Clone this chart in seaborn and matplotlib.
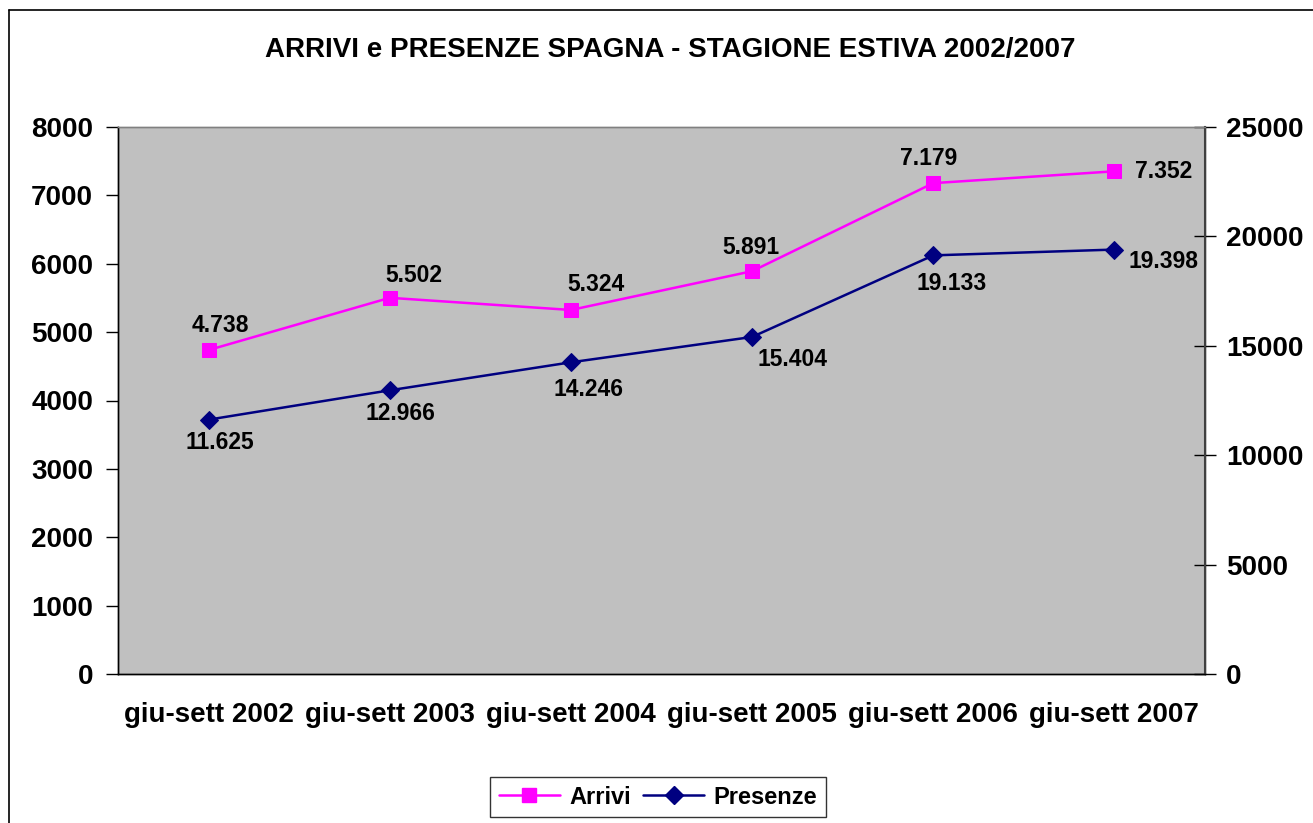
import matplotlib
matplotlib.use("Agg")
import matplotlib.pyplot as plt
import seaborn as sns
import pandas as pd
from matplotlib.lines import Line2D

categories = ["giu-sett 2002", "giu-sett 2003", "giu-sett 2004",
              "giu-sett 2005", "giu-sett 2006", "giu-sett 2007"]
arrivi = [4738, 5502, 5324, 5891, 7179, 7352]
presenze = [11625, 12966, 14246, 15404, 19133, 19398]
left_ticks = [0, 1000, 2000, 3000, 4000, 5000, 6000, 7000, 8000]
right_ticks = [0, 5000, 10000, 15000, 20000, 25000]
title = "ARRIVI e PRESENZE SPAGNA - STAGIONE ESTIVA 2002/2007"

# label offsets in pixels (dx, dy) relative to each point
arr_off = [(12, 25), (24, 22), (25, 25), (-1, 24), (-5, 25), (49, 0)]
pre_off = [(11, -23), (11, -23), (18, -27), (40, -23), (18, -28), (49, -12)]

sns.set_theme(style="white")
plt.rcParams["font.family"] = ["Liberation Sans", "DejaVu Sans"]
plt.rcParams["font.weight"] = "bold"
plt.rcParams["text.color"] = "black"
plt.rcParams["xtick.color"] = "black"
plt.rcParams["ytick.color"] = "black"
plt.rcParams["xtick.labelcolor"] = "black"
plt.rcParams["ytick.labelcolor"] = "black"

fig = plt.figure(figsize=(13.13, 8.23), dpi=100)
ax = fig.add_axes([118/1313, 1-674/823, (1205-118)/1313, (674-127)/823])
ax.set_facecolor("#C0C0C0")

df = pd.DataFrame({"cat": categories, "arrivi": arrivi, "presenze": presenze})
pos = list(range(len(categories)))
df["pos"] = pos

sns.lineplot(data=df, x="pos", y="arrivi", ax=ax, color="#FF00FF", marker="s",
             markersize=10, markeredgecolor="#FF00FF", linewidth=1.8, sort=False)
ax2 = ax.twinx()
sns.lineplot(data=df, x="pos", y="presenze", ax=ax2, color="#000080", marker="D",
             markersize=9, markeredgecolor="#000080", linewidth=1.8, sort=False)

ax.set_xlim(-0.5, len(categories) - 0.5)
ax.set_ylim(0, 8000)
ax2.set_ylim(0, 25000)
ax.set_xlabel("")
ax.set_ylabel("")
ax2.set_ylabel("")

ax.set_xticks(pos)
ax.set_xticklabels(categories, fontsize=20, fontweight="bold", color="black")
ax.set_xticks([p - 0.5 for p in pos] + [len(categories) - 0.5], minor=True)
ax.tick_params(axis="x", which="major", length=0, pad=20)
ax.tick_params(axis="x", which="minor", direction="inout", length=17, width=1, color="black")
ax.set_yticks(left_ticks)
ax.set_yticklabels([str(t) for t in left_ticks], fontsize=20, fontweight="bold", color="black")
ax.tick_params(axis="y", direction="out", length=9, width=1, color="black", left=True, pad=9)
ax2.set_yticks(right_ticks)
ax2.set_yticklabels([str(t) for t in right_ticks], fontsize=20, fontweight="bold", color="black")
ax2.tick_params(axis="y", direction="inout", length=16, width=1, color="black", right=True, pad=7)

for a in (ax, ax2):
    for s in a.spines.values():
        s.set_visible(True)
        s.set_color("black")
        s.set_linewidth(1)
ax2.spines["top"].set_color("#808080")
ax.spines["top"].set_color("#808080")
ax2.spines["right"].set_color("#404040")
ax2.spines["right"].set_linewidth(1.5)
ax.grid(False)
ax2.grid(False)

def fmt(v):
    return f"{v:,}".replace(",", ".")

for p, v, (dx, dy) in zip(pos, arrivi, arr_off):
    ax.annotate(fmt(v), (p, v), xytext=(dx, dy), textcoords="offset pixels",
                ha="center", va="center", fontsize=16.5, fontweight="bold", color="black")
for p, v, (dx, dy) in zip(pos, presenze, pre_off):
    ax2.annotate(fmt(v), (p, v), xytext=(dx, dy), textcoords="offset pixels",
                 ha="center", va="center", fontsize=16.5, fontweight="bold", color="black")

fig.text(670/1313, 1-50/823, title, ha="center", va="center", fontsize=20,
         fontweight="bold", color="black")

handles = [Line2D([], [], color="#FF00FF", marker="s", markersize=10, linewidth=1.8),
           Line2D([], [], color="#000080", marker="D", markersize=9, linewidth=1.8)]
leg = fig.legend(handles, ["Arrivi", "Presenze"], loc="center", ncol=2,
                 bbox_to_anchor=(658/1313, 1-797/823), frameon=True, fancybox=False,
                 prop={"size": 17, "weight": "bold"}, handlelength=2.6, columnspacing=0.5,
                 handletextpad=0.4, borderpad=0.35)
leg.get_frame().set_edgecolor("black")
leg.get_frame().set_linewidth(1)
for t in leg.get_texts():
    t.set_color("black")

# outer chart border (left and top edges visible)
fig.add_artist(Line2D([9/1313, 9/1313], [0, 1-10/823], transform=fig.transFigure, color="black", linewidth=1.2))
fig.add_artist(Line2D([9/1313, 1], [1-10/823, 1-10/823], transform=fig.transFigure, color="black", linewidth=1.2))

fig.savefig("out.png", dpi=100)
